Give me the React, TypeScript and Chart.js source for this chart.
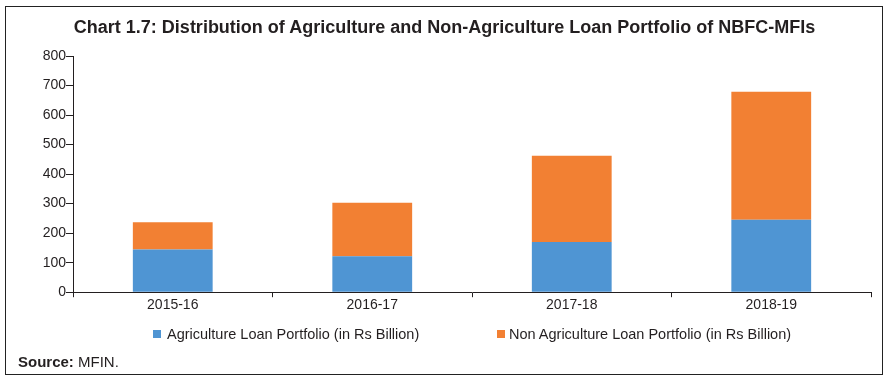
import React, { useEffect, useRef } from "react";
import { Chart, registerables } from "chart.js";

Chart.register(...registerables);

const categories = ["2015-16", "2016-17", "2017-18", "2018-19"];
const agriValues = [145, 122, 170, 245];
const nonAgriValues = [92, 181, 292, 434];
const seriesNames = [
  "Agriculture Loan Portfolio (in Rs Billion)",
  "Non Agriculture Loan Portfolio (in Rs Billion)",
];
const seriesColors = ["#4F95D3", "#F28033"];
const yMin = 0;
const yMax = 800;
const yStep = 100;

const FONT = "'Liberation Sans', Arial, Helvetica, sans-serif";
const INK = "#231F20";

export default function App() {
  const canvasRef = useRef<HTMLCanvasElement | null>(null);

  useEffect(() => {
    if (!canvasRef.current) return;
    const chart = new Chart(canvasRef.current, {
      type: "bar",
      data: {
        labels: categories,
        datasets: [
          {
            label: seriesNames[0],
            data: agriValues,
            backgroundColor: seriesColors[0],
            borderWidth: 0,
            barPercentage: 0.4,
            categoryPercentage: 1.0,
          },
          {
            label: seriesNames[1],
            data: nonAgriValues,
            backgroundColor: seriesColors[1],
            borderWidth: 0,
            barPercentage: 0.4,
            categoryPercentage: 1.0,
          },
        ],
      },
      options: {
        responsive: false,
        animation: false,
        layout: { padding: { left: 20, right: 25, top: 56, bottom: 72 } },
        plugins: {
          legend: { display: false },
          title: { display: false },
          tooltip: { enabled: false },
        },
        scales: {
          x: {
            stacked: true,
            grid: {
              display: true,
              offset: true,
              drawOnChartArea: false,
              drawTicks: true,
              tickLength: 5,
              color: INK,
            },
            border: { display: true, color: INK, width: 1 },
            ticks: {
              color: INK,
              padding: 0,
              font: { family: FONT, size: 14 },
            },
          },
          y: {
            stacked: true,
            min: yMin,
            max: yMax,
            afterFit: (scale: any) => {
              scale.width = 53;
            },
            grid: {
              display: true,
              drawOnChartArea: false,
              drawTicks: true,
              tickLength: 7,
              color: INK,
            },
            border: { display: true, color: INK, width: 1 },
            ticks: {
              stepSize: yStep,
              color: INK,
              padding: 0,
              font: { family: FONT, size: 14 },
            },
          },
        },
      },
    });
    return () => chart.destroy();
  }, []);

  const textBase: React.CSSProperties = {
    position: "absolute",
    fontFamily: FONT,
    color: INK,
    whiteSpace: "nowrap",
  };

  return (
    <div
      style={{
        position: "absolute",
        left: 0,
        top: 0,
        width: 896,
        height: 386,
        background: "#ffffff",
        overflow: "hidden",
      }}
    >
      <div
        style={{
          position: "absolute",
          left: 5,
          top: 6,
          width: 876,
          height: 367,
          border: "1.5px solid #222",
        }}
      />
      <canvas
        ref={canvasRef}
        width={896}
        height={386}
        style={{ position: "absolute", left: 0, top: 0, width: 896, height: 386 }}
      />
      <div
        style={{
          ...textBase,
          left: 0,
          width: 889,
          top: 17.5,
          textAlign: "center",
          fontSize: 18,
          lineHeight: "18px",
          fontWeight: "bold",
        }}
      >
        Chart 1.7: Distribution of Agriculture and Non-Agriculture Loan Portfolio of NBFC-MFIs
      </div>
      {[153, 497].map((left, i) => (
        <div
          key={i}
          style={{
            ...textBase,
            left,
            top: 326.5,
            fontSize: 14.5,
            lineHeight: "15px",
            display: "flex",
            alignItems: "center",
          }}
        >
          <span
            style={{
              display: "inline-block",
              width: 8,
              height: 8,
              background: seriesColors[i],
              marginRight: i === 0 ? 6 : 4,
            }}
          />
          <span>{seriesNames[i]}</span>
        </div>
      ))}
      <div
        style={{
          ...textBase,
          left: 18,
          top: 354.3,
          fontSize: 15,
          lineHeight: "15px",
        }}
      >
        <b>Source:</b> MFIN.
      </div>
    </div>
  );
}
